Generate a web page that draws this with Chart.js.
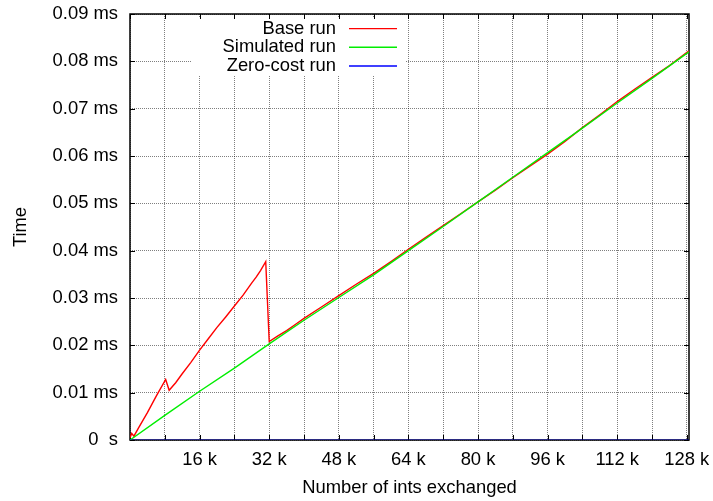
<!DOCTYPE html>
<html>
<head>
<meta charset="utf-8">
<script src="https://cdn.jsdelivr.net/npm/chart.js@4/dist/chart.umd.min.js"></script>
<style>
  html, body { margin: 0; padding: 0; background: #ffffff; }
  #wrap { width: 713px; height: 501px; }
</style>
</head>
<body>
<div id="wrap"><canvas id="c" width="713" height="501"></canvas></div>
<script>
// ---- data (x in k ints, y in ms) ----
const seriesLabels = ['Base run', 'Simulated run', 'Zero-cost run'];
const seriesColors = ['#ff0000', '#00ee00', '#0000ff'];

const baseX = [0, 0.4, 0.9, 2, 4, 6, 8.2, 9, 10.5, 12, 14, 16, 18, 20, 22, 24, 26, 28, 29, 30, 31.2,
               32, 34, 36, 38, 40, 44, 48, 52, 56, 60, 64, 68, 72, 76, 80, 84, 88, 92, 96, 100,
               104, 108, 112, 116, 120, 124, 128.5];
const baseY = [0.0005, 0.0014, 0.0008, 0.0026, 0.0058, 0.0092, 0.0128, 0.0105, 0.0121, 0.0140, 0.0164,
               0.0190, 0.0214, 0.0238, 0.0260, 0.0283, 0.0306, 0.0332, 0.0344, 0.0358, 0.0377,
               0.0208, 0.0220, 0.0231, 0.0244, 0.0257, 0.0281, 0.0305, 0.0329, 0.0352, 0.0377,
               0.0403, 0.0428, 0.0453, 0.0478, 0.0503, 0.0528, 0.0554, 0.0579, 0.0604, 0.0631,
               0.0660, 0.0687, 0.0715, 0.0741, 0.0766, 0.0791, 0.0822];

const simX = [0, 8, 16, 24, 32, 40, 48, 56, 64, 72, 80, 88, 96, 104, 112, 120, 128.5];
const simY = [0, 0.0052, 0.0103, 0.0152, 0.0203, 0.0253, 0.0301, 0.0349, 0.0400, 0.0451,
              0.0503, 0.0555, 0.0607, 0.0659, 0.0712, 0.0764, 0.0820];

const zeroX = [0, 16, 32, 48, 64, 80, 96, 112, 128.5];
const zeroY = [0, 0, 0, 0, 0, 0, 0, 0, 0];

const xTicks = [0, 8, 16, 24, 32, 40, 48, 56, 64, 72, 80, 88, 96, 104, 112, 120, 128];
const xTickLabels = ['', '', '16 k', '', '32 k', '', '48 k', '', '64 k', '', '80 k', '', '96 k', '', '112 k', '', '128 k'];
const yTicks = [0, 0.01, 0.02, 0.03, 0.04, 0.05, 0.06, 0.07, 0.08, 0.09];
const yTickLabels = ['0  s', '0.01 ms', '0.02 ms', '0.03 ms', '0.04 ms', '0.05 ms', '0.06 ms', '0.07 ms', '0.08 ms', '0.09 ms'];

const xTitle = 'Number of ints exchanged';
const yTitle = 'Time';

function pts(xs, ys) { return xs.map((x, i) => ({ x: x, y: ys[i] })); }

const FONT = 'Liberation Sans, Arial, Helvetica, sans-serif';
const FS = 18.4;

function zeroPad(scale) {
  scale.paddingLeft = 0; scale.paddingRight = 0; scale.paddingTop = 0; scale.paddingBottom = 0;
}

const framePlugin = {
  id: 'frame',
  beforeDatasetsDraw(chart) {
    const ctx = chart.ctx;
    const a = chart.chartArea;
    const xs = chart.scales.x, ys = chart.scales.y;
    ctx.save();
    // key background (opaque)
    ctx.fillStyle = '#ffffff';
    ctx.fillRect(192, 18, 214, 58);
    // border
    ctx.strokeStyle = '#000000';
    ctx.lineWidth = 1.5;
    ctx.strokeRect(a.left, a.top, a.right - a.left, a.bottom - a.top);
    // inward ticks
    ctx.lineWidth = 1;
    ctx.beginPath();
    xTicks.forEach(v => {
      const px = Math.round(xs.getPixelForValue(v)) + 0.5;
      ctx.moveTo(px, a.bottom); ctx.lineTo(px, a.bottom - 5);
      ctx.moveTo(px, a.top); ctx.lineTo(px, a.top + 5);
    });
    yTicks.forEach(v => {
      const py = Math.round(ys.getPixelForValue(v)) + 0.5;
      ctx.moveTo(a.left, py); ctx.lineTo(a.left + 5, py);
      ctx.moveTo(a.right, py); ctx.lineTo(a.right - 5, py);
    });
    ctx.stroke();
    ctx.restore();
  },
  afterDatasetsDraw(chart) {
    const ctx = chart.ctx;
    ctx.save();
    ctx.font = FS + 'px ' + FONT;
    ctx.textAlign = 'right';
    ctx.textBaseline = 'middle';
    const rowY = [28.6, 47.3, 66.0];
    chart.data.datasets.forEach((ds, i) => {
      ctx.fillStyle = '#000000';
      ctx.fillText(ds.label, 336, rowY[i]);
      ctx.strokeStyle = seriesColors[i];
      ctx.lineWidth = 1.4;
      ctx.beginPath();
      ctx.moveTo(349, rowY[i]);
      ctx.lineTo(397, rowY[i]);
      ctx.stroke();
    });
    ctx.restore();
  }
};

new Chart(document.getElementById('c'), {
  type: 'line',
  data: {
    datasets: [
      { label: seriesLabels[0], data: pts(baseX, baseY), borderColor: seriesColors[0], borderWidth: 1.4, pointRadius: 0, tension: 0, order: 3 },
      { label: seriesLabels[1], data: pts(simX, simY), borderColor: seriesColors[1], borderWidth: 1.4, pointRadius: 0, tension: 0, order: 2 },
      { label: seriesLabels[2], data: pts(zeroX, zeroY), borderColor: 'rgba(0,0,255,0.45)', borderWidth: 1.3, pointRadius: 0, tension: 0, order: 1 }
    ]
  },
  options: {
    responsive: false,
    animation: false,
    events: [],
    layout: { padding: { top: 14, right: 24, left: 0, bottom: 0 } },
    plugins: { legend: { display: false }, tooltip: { enabled: false } },
    scales: {
      x: {
        type: 'linear',
        min: 0, max: 128.5,
        afterBuildTicks(scale) { scale.ticks = xTicks.map(v => ({ value: v })); },
        afterFit(scale) { scale.height = 61; zeroPad(scale); },
        grid: { color: 'rgba(0,0,0,0.5)', lineWidth: 1, drawTicks: false },
        border: { display: false, dash: [1, 1] },
        ticks: {
          autoSkip: false, maxRotation: 0, padding: 9, color: '#000',
          font: { family: FONT, size: FS },
          callback(v, i) { return xTickLabels[i]; }
        },
        title: { display: true, text: xTitle, color: '#000', font: { family: FONT, size: FS }, padding: { top: 0, bottom: 2 } }
      },
      y: {
        type: 'linear',
        min: 0, max: 0.09,
        afterBuildTicks(scale) { scale.ticks = yTicks.map(v => ({ value: v })); },
        afterFit(scale) { scale.width = 130; zeroPad(scale); },
        grid: { color: 'rgba(0,0,0,0.5)', lineWidth: 1, drawTicks: false },
        border: { display: false, dash: [1, 1] },
        ticks: {
          autoSkip: false, padding: 12, color: '#000',
          font: { family: FONT, size: FS },
          callback(v, i) { return yTickLabels[i]; }
        },
        title: { display: true, text: yTitle, color: '#000', font: { family: FONT, size: FS }, padding: { top: 10, bottom: 0 } }
      }
    }
  },
  plugins: [framePlugin]
});
</script>
</body>
</html>
